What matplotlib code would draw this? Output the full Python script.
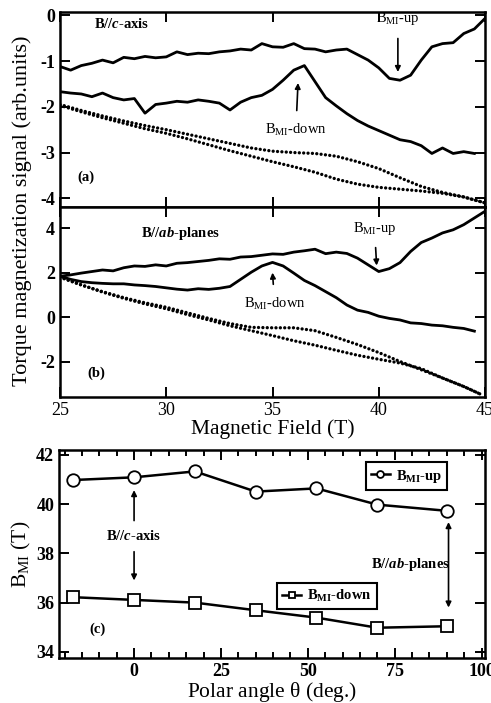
import numpy as np
import matplotlib
matplotlib.use("Agg")
import matplotlib.pyplot as plt

plt.rcParams['font.family'] = ['Liberation Serif', 'DejaVu Serif']
plt.rcParams['mathtext.fontset'] = 'custom'
plt.rcParams['mathtext.rm'] = 'Liberation Serif'
plt.rcParams['mathtext.bf'] = 'Liberation Serif:bold'
plt.rcParams['mathtext.it'] = 'Liberation Serif:italic:bold'
plt.rcParams['axes.unicode_minus'] = False

# field grids (T)
field = np.arange(25, 45.01, 0.5)
field_short = np.arange(25, 44.51, 0.5)
field_dots = np.arange(25, 45.01, 1.0)
field_dots_b = np.append(np.arange(25, 44.01, 1.0), 44.8)

# (a) B // c-axis
a_up = [-1.12, -1.20, -1.10, -1.05, -0.98, -1.04, -0.92, -0.95, -0.90, -0.93,
        -0.91, -0.80, -0.86, -0.83, -0.84, -0.80, -0.78, -0.74, -0.76, -0.62,
        -0.69, -0.70, -0.62, -0.73, -0.74, -0.80, -0.76, -0.74, -0.86, -0.98,
        -1.15, -1.38, -1.42, -1.31, -0.98, -0.69, -0.62, -0.60, -0.40, -0.30,
        -0.07]
a_down = [-1.67, -1.70, -1.72, -1.78, -1.70, -1.80, -1.85, -1.82, -2.14, -1.95,
          -1.92, -1.88, -1.90, -1.85, -1.88, -1.92, -2.07, -1.90, -1.80, -1.75,
          -1.62, -1.42, -1.20, -1.10, -1.45, -1.80, -1.98, -2.15, -2.30, -2.42,
          -2.52, -2.62, -2.72, -2.76, -2.85, -3.02, -2.90, -3.02, -2.98, -3.02]
a_dots_up = [-1.95, -2.08, -2.20, -2.31, -2.41, -2.50, -2.60, -2.70, -2.80, -2.90,
             -2.97, -3.00, -3.02, -3.08, -3.20, -3.35, -3.55, -3.74, -3.87, -3.97,
             -4.10]
a_dots_down = [-1.97, -2.11, -2.24, -2.36, -2.48, -2.58, -2.70, -2.83, -2.96, -3.08,
               -3.20, -3.31, -3.43, -3.58, -3.69, -3.76, -3.80, -3.84, -3.89, -3.97,
               -4.10]

# (b) B // ab-planes
b_up = [1.84, 1.90, 1.98, 2.05, 2.12, 2.08, 2.22, 2.30, 2.28, 2.35,
        2.30, 2.42, 2.45, 2.50, 2.55, 2.62, 2.60, 2.70, 2.72, 2.78,
        2.84, 2.82, 2.92, 2.98, 3.05, 2.85, 2.92, 2.86, 2.65, 2.35,
        2.05, 2.18, 2.45, 2.95, 3.35, 3.55, 3.78, 3.92, 4.15, 4.45,
        4.75]
b_down = [1.84, 1.70, 1.60, 1.55, 1.52, 1.50, 1.50, 1.45, 1.42, 1.38,
          1.32, 1.26, 1.22, 1.28, 1.25, 1.30, 1.38, 1.70, 2.02, 2.30,
          2.46, 2.30, 1.98, 1.65, 1.42, 1.15, 0.88, 0.55, 0.32, 0.22,
          0.05, -0.05, -0.12, -0.25, -0.28, -0.35, -0.38, -0.45, -0.50, -0.62]
b_dots_up = [1.80, 1.45, 1.15, 0.88, 0.65, 0.45, 0.20, -0.05, -0.28, -0.45,
             -0.47, -0.47, -0.60, -0.90, -1.22, -1.58, -1.98, -2.35, -2.72, -3.10,
             -3.45]
b_dots_down = [1.80, 1.45, 1.13, 0.85, 0.60, 0.38, 0.12, -0.12, -0.38, -0.60,
               -0.82, -1.05, -1.25, -1.48, -1.70, -1.88, -2.05, -2.30, -2.72, -3.10,
               -3.45]

# (c) transition fields vs polar angle
angle = [-17.5, 0, 17.5, 35, 52.5, 70, 90]
bmi_up = [40.98, 41.09, 41.33, 40.51, 40.64, 39.98, 39.73]
bmi_down = [36.22, 36.11, 36.00, 35.69, 35.39, 34.98, 35.04]

fig = plt.figure(figsize=(4.91, 7.03), dpi=100)
ax_a = fig.add_axes([0.1222, 0.7055, 0.8656, 0.2774])
ax_b = fig.add_axes([0.1222, 0.4353, 0.8656, 0.2702])
ax_c = fig.add_axes([0.1202, 0.0640, 0.8676, 0.2959])

dot_style = dict(color='black', lw=2.4, linestyle=(0, (0.01, 1.3)),
                 dash_capstyle='round')


def style(ax):
    for s in ax.spines.values():
        s.set_linewidth(1.8)
    ax.tick_params(which='both', direction='in', top=True, right=True,
                   width=1.4)
    ax.tick_params(which='major', length=7)
    ax.tick_params(which='minor', length=4)


ax_a.plot(field, a_up, color='black', lw=2.0)
ax_a.plot(field_short, a_down, color='black', lw=2.0)
ax_a.plot(field_dots, a_dots_up, **dot_style)
ax_a.plot(field_dots, a_dots_down, **dot_style)
ax_a.set_xlim(25, 45)
ax_a.set_ylim(-4.19, 0.07)
ax_a.set_yticks([0, -1, -2, -3, -4])
ax_a.set_xticks([25, 30, 35, 40, 45])
ax_a.set_xticklabels([])
style(ax_a)
ax_a.text(26.6, -0.2, r'B//$c$-axis', fontsize=10.5, fontweight='bold', va='center')
ax_a.text(25.8, -3.53, '(a)', fontsize=10.5, fontweight='bold', va='center')
ax_a.annotate(r'B$_{\mathrm{MI}}$-up', xy=(40.9, -1.24), xytext=(40.9, -0.08),
              ha='center', va='center', fontsize=10.5,
              arrowprops=dict(arrowstyle='-|>', color='black', lw=1.2,
                              mutation_scale=8, shrinkA=6, shrinkB=0))
ax_a.annotate(r'B$_{\mathrm{MI}}$-down', xy=(36.2, -1.48), xytext=(36.1, -2.5),
              ha='center', va='center', fontsize=10.5,
              arrowprops=dict(arrowstyle='-|>', color='black', lw=1.2,
                              mutation_scale=8, shrinkA=6, shrinkB=0))

ax_b.plot(field, b_up, color='black', lw=2.0)
ax_b.plot(field_short, b_down, color='black', lw=2.0)
ax_b.plot(field_dots_b, b_dots_up, **dot_style)
ax_b.plot(field_dots_b, b_dots_down, **dot_style)
ax_b.set_xlim(25, 45)
ax_b.set_ylim(-3.57, 4.94)
ax_b.set_yticks([4, 2, 0, -2])
ax_b.set_xticks([25, 30, 35, 40, 45])
style(ax_b)
ax_b.text(28.8, 3.75, r'B//$ab$-planes', fontsize=10.5, fontweight='bold', va='center')
ax_b.text(26.3, -2.5, '(b)', fontsize=10.5, fontweight='bold', va='center')
ax_b.annotate(r'B$_{\mathrm{MI}}$-up', xy=(39.9, 2.32), xytext=(39.8, 4.0),
              ha='center', va='center', fontsize=10.5,
              arrowprops=dict(arrowstyle='-|>', color='black', lw=1.2,
                              mutation_scale=8, shrinkA=6, shrinkB=0))
ax_b.annotate(r'B$_{\mathrm{MI}}$-down', xy=(35.0, 2.0), xytext=(35.1, 0.62),
              ha='center', va='center', fontsize=10.5,
              arrowprops=dict(arrowstyle='-|>', color='black', lw=1.2,
                              mutation_scale=8, shrinkA=6, shrinkB=0))
ax_b.set_xlabel('Magnetic Field (T)', fontsize=15.5, labelpad=0)

for ax in (ax_a, ax_b):
    for lab in ax.get_yticklabels():
        lab.set_fontweight('bold')
        lab.set_fontsize(13)
for lab in ax_b.get_xticklabels():
    lab.set_fontsize(13)

fig.text(0.045, 0.70, 'Torque magnetization signal (arb.units)', rotation=90,
         ha='center', va='center', fontsize=16)

l_up, = ax_c.plot(angle, bmi_up, color='black', lw=1.8, marker='o', ms=9,
                  mfc='white', mec='black', mew=1.3,
                  label=r'B$_{\mathbf{MI}}$-up')
l_dn, = ax_c.plot(angle, bmi_down, color='black', lw=1.8, marker='s', ms=9,
                  mfc='white', mec='black', mew=1.3,
                  label=r'B$_{\mathbf{MI}}$-down')
ax_c.set_xlim(-21.6, 101)
ax_c.set_ylim(33.75, 42.2)
ax_c.set_xticks([0, 25, 50, 75, 100])
ax_c.set_xticks(np.arange(-20, 101, 5), minor=True)
ax_c.set_yticks([34, 36, 38, 40, 42])
style(ax_c)
for lab in ax_c.get_xticklabels() + ax_c.get_yticklabels():
    lab.set_fontweight('bold')
    lab.set_fontsize(13)

leg_kw = dict(loc='upper right', frameon=True, fancybox=False, framealpha=1,
              edgecolor='black', handlelength=1.3, handletextpad=0.4,
              markerscale=0.55, borderpad=0.35, borderaxespad=0,
              prop={'weight': 'bold', 'size': 10.5})
leg1 = ax_c.legend(handles=[l_up], bbox_to_anchor=(0.911, 0.94), **leg_kw)
leg1.get_frame().set_linewidth(1.5)
ax_c.add_artist(leg1)
leg2 = ax_c.legend(handles=[l_dn], bbox_to_anchor=(0.746, 0.36), **leg_kw)
leg2.get_frame().set_linewidth(1.5)

arrow_kw = dict(arrowstyle='-|>', color='black', lw=1.2, mutation_scale=8,
                shrinkA=5, shrinkB=0)
ax_c.text(0, 38.7, r'B//$c$-axis', fontsize=10.5, fontweight='bold',
          ha='center', va='center')
ax_c.annotate('', xy=(0, 40.57), xytext=(0, 39.05), arrowprops=arrow_kw)
ax_c.annotate('', xy=(0, 36.9), xytext=(0, 38.35), arrowprops=arrow_kw)
ax_c.text(79.5, 37.55, r'B//$ab$-planes', fontsize=10.5, fontweight='bold',
          ha='center', va='center')
ax_c.annotate('', xy=(90.5, 39.27), xytext=(90.5, 35.8),
              arrowprops=dict(arrowstyle='<|-|>', color='black', lw=1.2,
                              mutation_scale=8, shrinkA=0, shrinkB=0))
ax_c.text(-12.8, 34.9, '(c)', fontsize=10.5, fontweight='bold', va='center')
ax_c.set_xlabel(r'Polar angle $\mathrm{\theta}$ (deg.)', fontsize=15.5, labelpad=0)
ax_c.set_ylabel(r'B$_{\mathrm{MI}}$ (T)', fontsize=15.5, labelpad=2)

fig.savefig('out.png', dpi=100)
